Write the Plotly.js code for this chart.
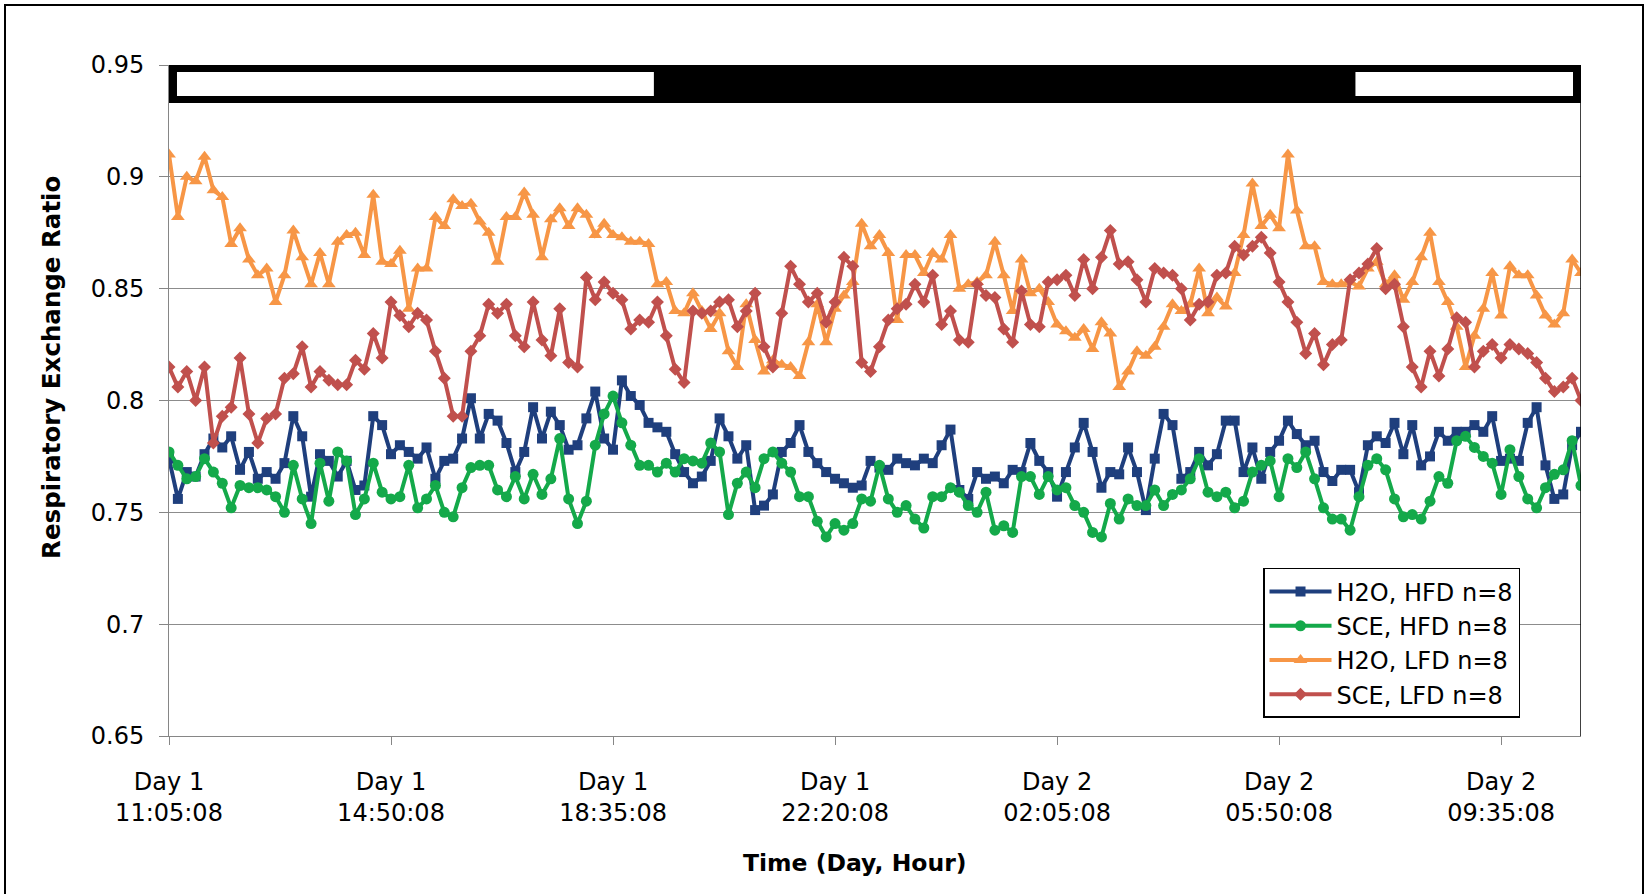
<!DOCTYPE html>
<html>
<head>
<meta charset="utf-8">
<script src="https://cdn.plot.ly/plotly-3.0.1.min.js"></script>
<style>
  html, body { margin: 0; padding: 0; background: #ffffff; }
  #chart { width: 1647px; height: 894px; }
  #frame { position: absolute; left: 4px; top: 4px; width: 1636px; height: 960px;
           border: 2px solid #000; pointer-events: none; }
</style>
</head>
<body>
<div id="chart"></div>
<div id="frame"></div>
<script>
// ---- data ----
const seriesNames = ["H2O, HFD n=8", "SCE, HFD n=8", "H2O, LFD n=8", "SCE, LFD n=8"];

const xTickLabels = [
  "Day 1<br>11:05:08", "Day 1<br>14:50:08", "Day 1<br>18:35:08", "Day 1<br>22:20:08",
  "Day 2<br>02:05:08", "Day 2<br>05:50:08", "Day 2<br>09:35:08"
];
const tickEvery = 25; // one labelled time every 25 samples

const yTickValues = [0.65, 0.7, 0.75, 0.8, 0.85, 0.9, 0.95];
const yTickLabels = ["0.65", "0.7", "0.75", "0.8", "0.85", "0.9", "0.95"];

const h2oHFD = [
  0.774,0.756,0.768,0.766,0.776,0.783,0.779,0.784,0.769,0.777,
  0.765,0.768,0.765,0.772,0.793,0.784,0.757,0.776,0.773,0.766,
  0.773,0.760,0.762,0.793,0.789,0.776,0.780,0.777,0.774,0.779,
  0.765,0.773,0.774,0.783,0.801,0.783,0.794,0.791,0.781,0.768,
  0.777,0.797,0.783,0.795,0.789,0.778,0.780,0.792,0.804,0.783,
  0.778,0.809,0.802,0.798,0.790,0.788,0.786,0.776,0.768,0.763,
  0.766,0.773,0.792,0.784,0.774,0.780,0.751,0.753,0.758,0.777,
  0.781,0.789,0.777,0.772,0.768,0.765,0.763,0.761,0.762,0.773,
  0.770,0.769,0.774,0.772,0.771,0.774,0.772,0.780,0.787,0.760,
  0.756,0.768,0.765,0.766,0.763,0.769,0.768,0.781,0.773,0.768,
  0.757,0.768,0.779,0.790,0.777,0.761,0.768,0.767,0.779,0.768,
  0.751,0.774,0.794,0.789,0.765,0.768,0.777,0.771,0.776,0.791,
  0.791,0.768,0.779,0.765,0.777,0.782,0.791,0.785,0.780,0.782,
  0.768,0.764,0.769,0.769,0.759,0.780,0.784,0.781,0.790,0.776,
  0.789,0.771,0.775,0.786,0.782,0.786,0.786,0.789,0.786,0.793,
  0.773,0.774,0.773,0.790,0.797,0.771,0.756,0.758,0.780,0.786
];

const sceHFD = [
  0.777,0.771,0.765,0.766,0.774,0.768,0.763,0.752,0.762,0.761,
  0.761,0.760,0.757,0.750,0.771,0.756,0.745,0.772,0.755,0.777,
  0.773,0.749,0.756,0.772,0.759,0.756,0.757,0.771,0.752,0.756,
  0.762,0.750,0.748,0.761,0.770,0.771,0.771,0.760,0.757,0.766,
  0.756,0.767,0.758,0.765,0.783,0.756,0.745,0.755,0.780,0.794,
  0.802,0.790,0.780,0.771,0.771,0.768,0.772,0.768,0.774,0.773,
  0.772,0.781,0.777,0.749,0.763,0.768,0.761,0.774,0.777,0.772,
  0.768,0.757,0.757,0.746,0.739,0.745,0.742,0.745,0.756,0.755,
  0.771,0.756,0.750,0.753,0.747,0.743,0.757,0.757,0.761,0.759,
  0.753,0.750,0.759,0.742,0.744,0.741,0.766,0.766,0.758,0.766,
  0.760,0.761,0.753,0.750,0.741,0.739,0.754,0.747,0.756,0.753,
  0.753,0.760,0.753,0.758,0.760,0.765,0.774,0.759,0.757,0.759,
  0.752,0.755,0.768,0.771,0.773,0.757,0.774,0.770,0.777,0.765,
  0.752,0.747,0.747,0.742,0.757,0.771,0.774,0.769,0.756,0.748,
  0.749,0.747,0.755,0.766,0.763,0.782,0.784,0.779,0.775,0.772,
  0.758,0.778,0.766,0.756,0.752,0.761,0.767,0.769,0.782,0.762
];

const h2oLFD = [
  0.910,0.882,0.900,0.898,0.909,0.894,0.891,0.870,0.877,0.863,
  0.856,0.859,0.844,0.856,0.876,0.864,0.852,0.866,0.852,0.871,
  0.874,0.875,0.865,0.892,0.862,0.861,0.867,0.841,0.859,0.859,
  0.882,0.878,0.890,0.887,0.888,0.880,0.875,0.862,0.882,0.882,
  0.893,0.883,0.864,0.881,0.886,0.878,0.886,0.883,0.874,0.879,
  0.874,0.873,0.871,0.871,0.870,0.852,0.853,0.840,0.839,0.848,
  0.840,0.832,0.839,0.822,0.815,0.843,0.827,0.813,0.818,0.816,
  0.815,0.811,0.826,0.843,0.826,0.841,0.847,0.853,0.879,0.869,
  0.874,0.866,0.836,0.865,0.865,0.857,0.866,0.863,0.874,0.850,
  0.852,0.853,0.856,0.871,0.856,0.840,0.863,0.848,0.850,0.844,
  0.834,0.831,0.828,0.832,0.823,0.835,0.830,0.806,0.813,0.822,
  0.820,0.824,0.833,0.843,0.840,0.843,0.859,0.839,0.846,0.842,
  0.857,0.874,0.897,0.878,0.883,0.877,0.910,0.885,0.869,0.869,
  0.853,0.852,0.852,0.853,0.851,0.859,0.862,0.852,0.856,0.845,
  0.853,0.864,0.875,0.853,0.844,0.833,0.815,0.829,0.841,0.857,
  0.838,0.860,0.856,0.856,0.847,0.838,0.834,0.839,0.863,0.857
];

const sceLFD = [
  0.815,0.806,0.813,0.800,0.815,0.781,0.793,0.797,0.819,0.794,
  0.781,0.792,0.794,0.810,0.812,0.824,0.806,0.813,0.809,0.807,
  0.807,0.818,0.814,0.830,0.819,0.844,0.838,0.833,0.839,0.836,
  0.822,0.810,0.793,0.793,0.822,0.829,0.843,0.839,0.843,0.829,
  0.824,0.844,0.827,0.820,0.841,0.817,0.815,0.855,0.845,0.853,
  0.848,0.845,0.832,0.836,0.835,0.844,0.829,0.814,0.808,0.840,
  0.839,0.840,0.844,0.845,0.833,0.840,0.848,0.824,0.815,0.839,
  0.860,0.852,0.844,0.848,0.835,0.844,0.864,0.860,0.817,0.813,
  0.824,0.836,0.841,0.843,0.852,0.844,0.856,0.834,0.840,0.827,
  0.826,0.852,0.847,0.846,0.832,0.826,0.849,0.834,0.833,0.853,
  0.854,0.856,0.847,0.863,0.850,0.864,0.876,0.861,0.862,0.854,
  0.844,0.859,0.857,0.856,0.850,0.836,0.843,0.844,0.856,0.857,
  0.869,0.865,0.869,0.873,0.866,0.853,0.844,0.835,0.821,0.830,
  0.816,0.825,0.827,0.854,0.857,0.861,0.868,0.850,0.852,0.833,
  0.815,0.806,0.822,0.811,0.823,0.837,0.835,0.815,0.822,0.825,
  0.819,0.825,0.823,0.821,0.817,0.810,0.804,0.806,0.810,0.800
];

// light/dark cycle, in sample units along the time axis
const darkStart = 54.6;
const darkEnd = 133.6;

// ---- build ----
const n = h2oHFD.length;
const x = [];
for (let i = 0; i < n; i++) x.push(i);
const xMax = n - 1;
const tickVals = xTickLabels.map((_, k) => k * tickEvery);

const styles = [
  {color: "#1f3f7d", symbol: "square", size: 10},
  {color: "#14a94a", symbol: "circle", size: 11},
  {color: "#f79646", symbol: "triangle-up", size: 12},
  {color: "#c0504d", symbol: "diamond", size: 10}
];
const values = [h2oHFD, sceHFD, h2oLFD, sceLFD];

const traces = values.map((v, k) => ({
  type: "scatter",
  mode: "lines+markers",
  name: seriesNames[k],
  x: x,
  y: v,
  line: {color: styles[k].color, width: 4},
  marker: {color: styles[k].color, symbol: styles[k].symbol, size: styles[k].size}
}));

const FONT = "DejaVu Sans, Liberation Sans, Arial, sans-serif";
const yTop = 0.95, yBarBottom = 0.9330;
const inX = 0.9, inY = 0.0031;

const shapes = [
  {type: "rect", xref: "x", yref: "y", x0: 0, x1: xMax, y0: yBarBottom, y1: yTop,
   fillcolor: "#000", line: {width: 0}, layer: "above"},
  {type: "rect", xref: "x", yref: "y", x0: 0 + inX, x1: darkStart, y0: yBarBottom + inY, y1: yTop - inY,
   fillcolor: "#fff", line: {width: 0}, layer: "above"},
  {type: "rect", xref: "x", yref: "y", x0: darkEnd, x1: xMax - inX, y0: yBarBottom + inY, y1: yTop - inY,
   fillcolor: "#fff", line: {width: 0}, layer: "above"},
  {type: "line", xref: "x", yref: "y", x0: xMax, x1: xMax, y0: 0.65, y1: yTop,
   line: {color: "#000", width: 1.5}, layer: "above"}
];

const layout = {
  width: 1647, height: 894,
  margin: {l: 169, r: 66, t: 65, b: 158},
  paper_bgcolor: "#fff", plot_bgcolor: "#fff",
  font: {family: FONT, color: "#000", size: 24},
  showlegend: true,
  legend: {
    x: 0.7748, y: 0.2504, xanchor: "left", yanchor: "top",
    bgcolor: "#fff", bordercolor: "#000", borderwidth: 1.5,
    font: {family: FONT, size: 24, color: "#000"},
    itemwidth: 62, tracegroupgap: 0
  },
  xaxis: {
    range: [0, xMax],
    tickmode: "array", tickvals: tickVals, ticktext: xTickLabels,
    tickangle: 0,
    ticks: "outside", ticklen: 8, tickcolor: "#868686", tickwidth: 1,
    showline: true, linecolor: "#868686", linewidth: 1,
    showgrid: false, zeroline: false,
    tickfont: {family: FONT, size: 24, color: "#000"},
    ticklabelstandoff: 16
  },
  yaxis: {
    range: [0.65, 0.95],
    tickmode: "array", tickvals: yTickValues, ticktext: yTickLabels,
    ticks: "outside", ticklen: 9, tickcolor: "#868686", tickwidth: 1,
    showline: true, linecolor: "#868686", linewidth: 1,
    showgrid: true, gridcolor: "#8c8c8c", gridwidth: 1,
    zeroline: false,
    tickfont: {family: FONT, size: 24, color: "#000"},
    ticklabelstandoff: 10
  },
  shapes: shapes,
  annotations: [
    {text: "<b>Respiratory Exchange Ratio</b>", xref: "paper", yref: "paper",
     x: -0.0829, y: 0.550, xanchor: "center", yanchor: "middle", textangle: -90,
     showarrow: false, font: {family: FONT, size: 24.5, color: "#000"}},
    {text: "<b>Time (Day, Hour)</b>", xref: "paper", yref: "paper",
     x: 0.4855, y: -0.1900, xanchor: "center", yanchor: "middle",
     showarrow: false, font: {family: FONT, size: 23.5, color: "#000"}}
  ]
};

Plotly.newPlot("chart", traces, layout, {displayModeBar: false, staticPlot: true});
</script>
</body>
</html>
